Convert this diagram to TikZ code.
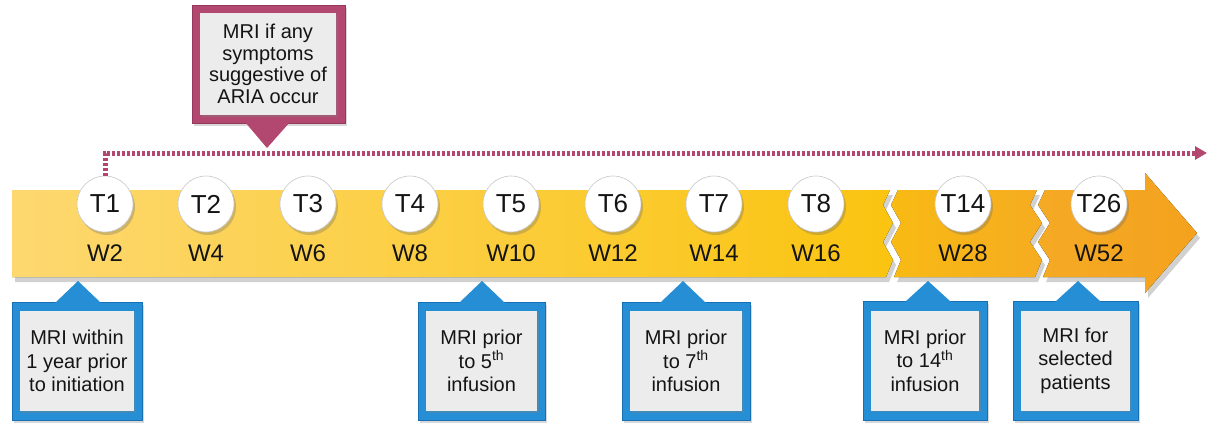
\documentclass[tikz,border=0pt]{standalone}
\usepackage{fontspec}
\setmainfont{Liberation Sans}
\usetikzlibrary{arrows.meta,shadows}
\definecolor{mag}{RGB}{178,72,112}
\definecolor{magdark}{RGB}{150,55,92}
\definecolor{blu}{RGB}{38,142,212}
\definecolor{bludark}{RGB}{24,112,180}
\definecolor{yA}{RGB}{253,216,112}
\definecolor{yB}{RGB}{250,196,16}
\definecolor{yC}{RGB}{248,186,20}
\definecolor{yD}{RGB}{246,172,32}
\definecolor{yE}{RGB}{245,170,36}
\definecolor{yF}{RGB}{244,162,30}
\definecolor{inbox}{RGB}{236,236,236}
\definecolor{txt}{RGB}{20,20,20}
\pgfdeclareradialshading{tball}{\pgfpoint{-6bp}{6bp}}{color(0bp)=(white); color(26bp)=(white); color(42bp)=(black!10); color(50bp)=(black!35)}
\tikzset{
  bandshadow/.style={fill=black,opacity=0.18},
  tcirc/.style={circle,minimum size=56pt,inner sep=0pt,shading=tball,
     draw=black!22,line width=0.6pt,font=\fontsize{26}{26}\selectfont,text=txt,
     drop shadow={shadow xshift=2pt,shadow yshift=-3pt,opacity=0.3,fill=black!60}},
  wlab/.style={font=\fontsize{24}{24}\selectfont,text=txt,inner sep=0pt},
  innerbox/.style={rectangle,fill=inbox,inner sep=0pt,text=txt,align=center,
     font=\fontsize{20}{23.5}\selectfont,
     drop shadow={shadow xshift=1.5pt,shadow yshift=-1.5pt,opacity=0.35,fill=black!50}},
  bluefill/.style={fill=blu,draw=bludark,line width=0.8pt,
     drop shadow={shadow xshift=2pt,shadow yshift=-3pt,opacity=0.25,fill=black!60}},
  magfill/.style={fill=mag,draw=magdark,line width=0.8pt,
     drop shadow={shadow xshift=2pt,shadow yshift=-3pt,opacity=0.25,fill=black!60}},
  dotline/.style={mag,line width=5pt,dash pattern=on 3pt off 2pt}
}
\begin{document}
\begin{tikzpicture}[x=1pt,y=-1pt]
\useasboundingbox[fill=white] (0,0) rectangle (1211,426);

% ---- band shadows
\fill[bandshadow,shift={(3,5)}] (12,190) -- (890,190) -- (883,205) -- (893,223) -- (883,242) -- (893,260) -- (886,277) -- (12,277) -- cycle;
\fill[bandshadow,shift={(3,5)}] (898,190) -- (1037,190) -- (1030,205) -- (1042,223) -- (1030,242) -- (1042,260) -- (1035,277) -- (894,277) -- (901,260) -- (891,242) -- (901,223) -- (891,205) -- cycle;
\fill[bandshadow,shift={(3,5)}] (1045,190) -- (1145,190) -- (1145,173) -- (1197,233) -- (1145,293) -- (1145,277) -- (1043,277) -- (1050,260) -- (1038,242) -- (1050,223) -- (1038,205) -- cycle;

% ---- band segments
\fill[left color=yA,right color=yB] (12,190) -- (890,190) -- (883,205) -- (893,223) -- (883,242) -- (893,260) -- (886,277) -- (12,277) -- cycle;
\fill[left color=yC,right color=yD] (898,190) -- (1037,190) -- (1030,205) -- (1042,223) -- (1030,242) -- (1042,260) -- (1035,277) -- (894,277) -- (901,260) -- (891,242) -- (901,223) -- (891,205) -- cycle;
\fill[left color=yE,right color=yF] (1045,190) -- (1145,190) -- (1145,173) -- (1197,233) -- (1145,293) -- (1145,277) -- (1043,277) -- (1050,260) -- (1038,242) -- (1050,223) -- (1038,205) -- cycle;

% ---- top callout
\path[magfill] (192,5) rectangle (345,123);
\fill[mag] (245,122) -- (290,122) -- (267,148) -- cycle;
\node[innerbox,minimum width=136pt,minimum height=102pt,font=\fontsize{20}{21.5}\selectfont] (ctop) at (268,64)
  {MRI if any\\symptoms\\suggestive of\\ARIA occur};

% ---- timepoint circles and week labels
\foreach \n/\x/\w in {1/105/W2,2/206/W4,3/308/W6,4/410/W8,5/511/W10,6/613/W12,7/714/W14,8/816/W16,14/963/W28,26/1099/W52}{
  \node[tcirc] (t\n) at (\x,204) {T\n};
  \node[wlab] (w\n) at (\x,253) {\w};
}

% ---- dotted arrow
\coordinate (dend) at (1207,153);
\draw[dotline,-{Triangle[length=12pt,width=13pt]}] (t1.north) |- (dend);

% ---- bottom callouts
\foreach \nm/\l/\r/\ax/\ty/\txt in {
  c1/12/142/78/302/{MRI within\\1 year prior\\to initiation},
  c5/418/545/482/302/{MRI prior\\to 5\textsuperscript{th}\\infusion},
  c7/622/750/683/302/{MRI prior\\to 7\textsuperscript{th}\\infusion},
  c14/863/987/928/301/{MRI prior\\to 14\textsuperscript{th}\\infusion},
  c26/1013/1138/1078/301/{MRI for\\selected\\patients}}{
  \path[bluefill] (\l,\ty) rectangle (\r,420);
  \fill[blu] (\ax-23,\ty+1) -- (\ax+23,\ty+1) -- (\ax,281) -- cycle;
  \node[innerbox,minimum width=\r-\l-16,minimum height=100pt] (\nm) at ({(\l+\r)/2},{(\ty+420)/2}) {\txt};
}
\end{tikzpicture}
\end{document}
